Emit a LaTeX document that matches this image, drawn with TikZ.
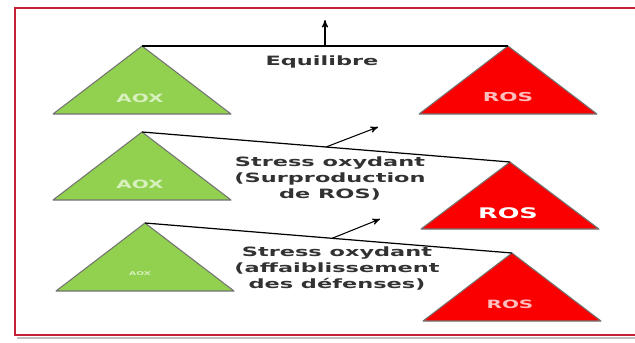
\documentclass[tikz,border=0pt]{standalone}
\usepackage{fontspec}
\setmainfont{DejaVu Sans}
\newfontfamily\widefont[FakeStretch=1.75]{DejaVu Sans}
\usetikzlibrary{arrows,calc}
\definecolor{aoxgreen}{RGB}{146,208,80}
\definecolor{rosred}{RGB}{250,0,0}
\definecolor{framered}{RGB}{196,32,56}
\definecolor{textgray}{RGB}{50,50,50}
\definecolor{aoxlight}{RGB}{215,240,190}
\definecolor{roslight}{RGB}{255,190,190}

\begin{document}
\begin{tikzpicture}[
    x=0.02cm, y=-0.02cm,
    aox/.style={fill=aoxgreen, draw=black!55, line width=0.6pt, line join=round},
    ros/.style={fill=rosred, draw=black!55, line width=0.6pt, line join=round},
    beam/.style={draw=black, line width=0.7pt},
    arrow/.style={->, >=stealth', semithick},
    caption/.style={font=\widefont\bfseries\fontsize{7.3}{9.1}\selectfont, text=textgray, align=center, inner sep=0pt},
    tag/.style={font=\widefont\bfseries\fontsize{#1}{#1}\selectfont, inner sep=0pt}
]
\useasboundingbox (0,0) rectangle (635,342);

% Frame
\draw[black!25, line width=1.2pt] (17,338) -- (635,338);
\draw[framered, line width=1.1pt] (635,8) -- (15,8) -- (15,335) -- (635,335);

% Apexes
\coordinate (aox1) at (142,46);
\coordinate (ros1) at (508,46);
\coordinate (aox2) at (142,132);
\coordinate (ros2) at (510,162);
\coordinate (aox3) at (145,223);
\coordinate (ros3) at (512,253);

% Triangles
\draw[aox] (aox1) -- ++(-89,68) -- ++(178,0) -- cycle;
\draw[ros] (ros1) -- ++(-89,68) -- ++(178,0) -- cycle;
\draw[aox] (aox2) -- ++(-89,68) -- ++(178,0) -- cycle;
\draw[ros] (ros2) -- ++(-89,67) -- ++(178,0) -- cycle;
\draw[aox] (aox3) -- ++(-89,68) -- ++(178,0) -- cycle;
\draw[ros] (ros3) -- ++(-89,68) -- ++(178,0) -- cycle;

% Triangle labels
\node[tag=6.5, text=aoxlight] (aoxtag1) at (140,98) {AOX};
\node[tag=7, text=roslight] (rostag1) at (508,97) {ROS};
\node[tag=6.5, text=aoxlight] (aoxtag2) at (140,184) {AOX};
\node[tag=8.3, text=white] (rostag2) at (508,213) {ROS};
\node[tag=3, text=aoxlight] (aoxtag3) at (140,274) {AOX};
\node[tag=6.5, text=roslight] (rostag3) at (510,304) {ROS};

% Beams
\draw[beam] (aox1) -- (ros1);
\draw[beam] (aox2) -- (ros2);
\draw[beam] (aox3) -- (ros3);

% Tilt arrows
\coordinate (pivot1) at ($(aox1)!0.5!(ros1)$);
\coordinate (pivot2) at ($(aox2)!0.5!(ros2)$);
\coordinate (pivot3) at ($(aox3)!0.51!(ros3)$);
\coordinate (tip1) at (325,20);
\coordinate (tip2) at (378,127);
\coordinate (tip3) at (380,219);
\draw[arrow] (pivot1) -- (tip1);
\draw[arrow] (pivot2) -- (tip2);
\draw[arrow] (pivot3) -- (tip3);

% Captions
\node[caption] (equil) at (322,62) {Equilibre};
\node[caption] (stress1) at (330,178) {Stress oxydant\\(Surproduction\\de ROS)};
\node[caption] (stress2) at (337,268) {Stress oxydant\\(affaiblissement\\des défenses)};
\end{tikzpicture}
\end{document}
